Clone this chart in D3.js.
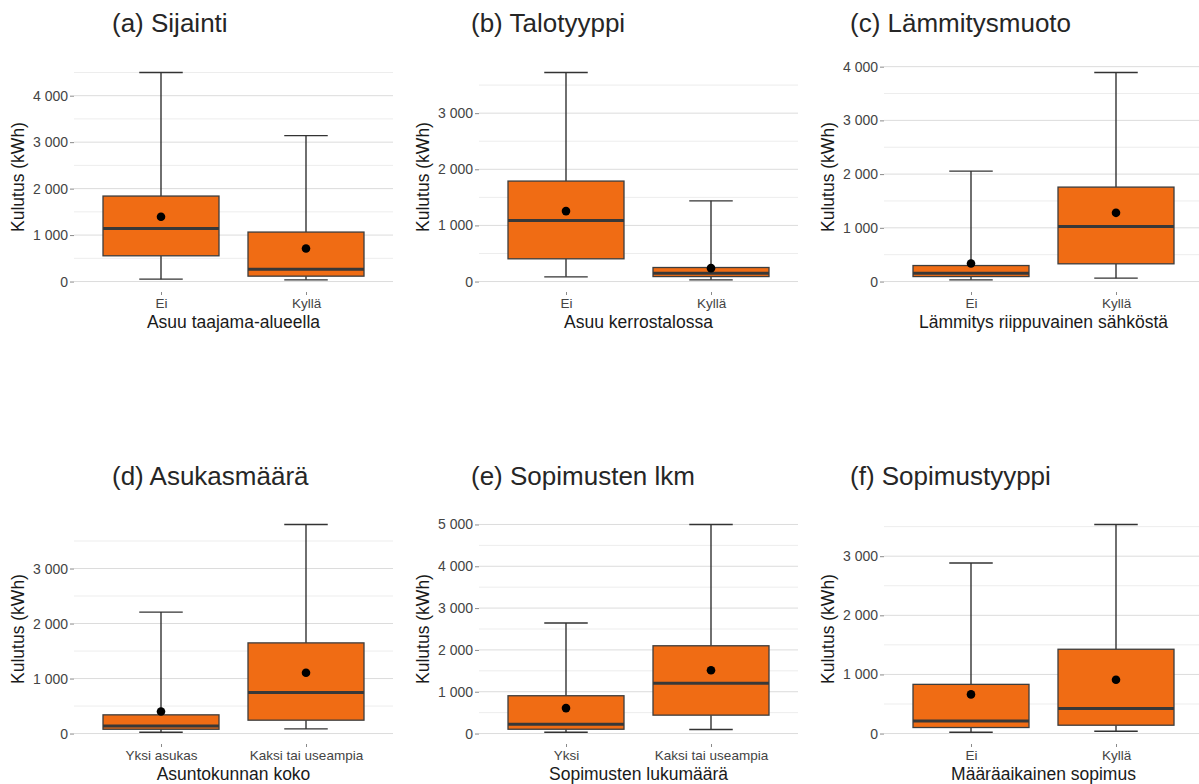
<!DOCTYPE html>
<html>
<head>
<meta charset="utf-8">
<script src="https://cdn.jsdelivr.net/npm/d3@7"></script>
<style>
  body { margin: 0; background: #fff; }
  text { font-family: "Liberation Sans", Arial, sans-serif; }
</style>
</head>
<body>
<script>
// six box plots, electricity use by household attributes
var w = 1199, h = 784;

var titles = ["(a) Sijainti", "(b) Talotyyppi", "(c) Lämmitysmuoto",
              "(d) Asukasmäärä", "(e) Sopimusten lkm", "(f) Sopimustyyppi"];
var xTitles = ["Asuu taajama-alueella", "Asuu kerrostalossa", "Lämmitys riippuvainen sähköstä",
               "Asuntokunnan koko", "Sopimusten lukumäärä", "Määräaikainen sopimus"];
var groups = [["Ei", "Kyllä"], ["Ei", "Kyllä"], ["Ei", "Kyllä"],
              ["Yksi asukas", "Kaksi tai useampia"], ["Yksi", "Kaksi tai useampia"], ["Ei", "Kyllä"]];
var yTitle = "Kulutus (kWh)";

// box statistics per panel, [group1, group2]
var whiskerLow  = [[52, 37], [84, 30], [32, 63], [24, 84], [31, 96], [22, 39]];
var q1          = [[554, 116], [405, 89], [93, 330], [78, 243], [103, 440], [102, 141]];
var median      = [[1142, 267], [1087, 150], [156, 1024], [139, 748], [224, 1202], [214, 424]];
var q3          = [[1840, 1065], [1790, 250], [298, 1758], [340, 1648], [904, 2099], [832, 1426]];
var whiskerHigh = [[4500, 3140], [3725, 1438], [2056, 3892], [2208, 3801], [2644, 5000], [2886, 3537]];
var means       = [[1394, 711], [1255, 239], [335, 1279], [401, 1106], [608, 1514], [662, 910]];

// layout
var colLeft = [74, 479, 884], panelW = 319;
var rowTop = [62, 514], panelH = 230;
var titleLeft = [112, 471, 850], titleBase = [32, 485];

var fmt = d3.formatLocale({decimal: ",", thousands: "\u00a0", grouping: [3], currency: ["", ""]}).format(",d");

var svg = d3.select("body").append("svg")
    .attr("width", w)
    .attr("height", h);

titles.forEach(function(t, i){
  var col = i % 3, row = Math.floor(i / 3);
  var x0 = colLeft[col], y0 = rowTop[row];

  var top = d3.max(whiskerHigh[i]);
  var y = d3.scaleLinear()
    .domain([-0.05 * top, 1.05 * top])
    .range([y0 + panelH, y0]);
  var x = d3.scalePoint()
    .domain(groups[i])
    .range([x0, x0 + panelW])
    .padding(0.6);
  var step = x.step();

  var g = svg.append("g").attr("class", "panel");

  // grid
  var major = y.ticks(5);
  var minor = major.map(function(d){ return d + 500; })
    .filter(function(d){ return d < y.domain()[1]; });
  g.selectAll(".minor").data(minor).enter().append("line")
    .attr("x1", x0).attr("x2", x0 + panelW)
    .attr("y1", function(d){ return y(d); }).attr("y2", function(d){ return y(d); })
    .style("stroke", "#ededed").style("stroke-width", 1);
  g.selectAll(".major").data(major).enter().append("line")
    .attr("x1", x0).attr("x2", x0 + panelW)
    .attr("y1", function(d){ return y(d); }).attr("y2", function(d){ return y(d); })
    .style("stroke", "#dcdcdc").style("stroke-width", 1);

  // y axis
  var yAxis = g.append("g")
    .attr("transform", "translate(" + x0 + ",0)")
    .call(d3.axisLeft(y).tickValues(major).tickFormat(fmt).tickSize(4).tickPadding(2));
  yAxis.select(".domain").remove();
  yAxis.selectAll(".tick line").style("stroke", "#8a8a8a");
  yAxis.selectAll(".tick text").style("font-size", "14px").style("fill", "#444");

  // x axis
  var xAxis = g.append("g")
    .attr("transform", "translate(0," + (y0 + panelH) + ")")
    .call(d3.axisBottom(x).tickSize(3).tickPadding(3));
  xAxis.select(".domain").remove();
  xAxis.selectAll(".tick line").style("stroke", "#8a8a8a");
  xAxis.selectAll(".tick text").style("font-size", "13.5px").style("fill", "#444");

  // boxes
  groups[i].forEach(function(grp, j){
    var cx = x(grp);
    var bw = 0.8 * step, cw = 0.3 * step;
    var b = g.append("g").attr("class", "box");
    b.append("line")
      .attr("x1", cx).attr("x2", cx)
      .attr("y1", y(whiskerHigh[i][j])).attr("y2", y(q3[i][j]))
      .style("stroke", "#333").style("stroke-width", 1.4);
    b.append("line")
      .attr("x1", cx).attr("x2", cx)
      .attr("y1", y(q1[i][j])).attr("y2", y(whiskerLow[i][j]))
      .style("stroke", "#333").style("stroke-width", 1.4);
    [whiskerHigh[i][j], whiskerLow[i][j]].forEach(function(v){
      b.append("line")
        .attr("x1", cx - cw / 2).attr("x2", cx + cw / 2)
        .attr("y1", y(v)).attr("y2", y(v))
        .style("stroke", "#333").style("stroke-width", 1.4);
    });
    b.append("rect")
      .attr("x", cx - bw / 2)
      .attr("y", y(q3[i][j]))
      .attr("width", bw)
      .attr("height", y(q1[i][j]) - y(q3[i][j]))
      .style("fill", "#f06c14")
      .style("stroke", "#3d3d3d").style("stroke-width", 1.3);
    b.append("line")
      .attr("x1", cx - bw / 2).attr("x2", cx + bw / 2)
      .attr("y1", y(median[i][j])).attr("y2", y(median[i][j]))
      .style("stroke", "#383838").style("stroke-width", 3);
    b.append("circle")
      .attr("cx", cx).attr("cy", y(means[i][j]))
      .attr("r", 4.3)
      .style("fill", "#000");
  });

  // titles
  g.append("text")
    .attr("x", titleLeft[col]).attr("y", titleBase[row])
    .style("font-size", "26px").style("fill", "#262626")
    .text(t);
  g.append("text")
    .attr("x", x0 + panelW / 2).attr("y", y0 + panelH + 36)
    .attr("text-anchor", "middle")
    .style("font-size", "17.5px").style("fill", "#1a1a1a")
    .text(xTitles[i]);
  g.append("text")
    .attr("transform", "translate(" + (x0 - 50) + "," + (y0 + panelH / 2) + ") rotate(-90)")
    .attr("text-anchor", "middle")
    .style("font-size", "17.5px").style("fill", "#1a1a1a")
    .text(yTitle);
});
</script>
</body>
</html>
